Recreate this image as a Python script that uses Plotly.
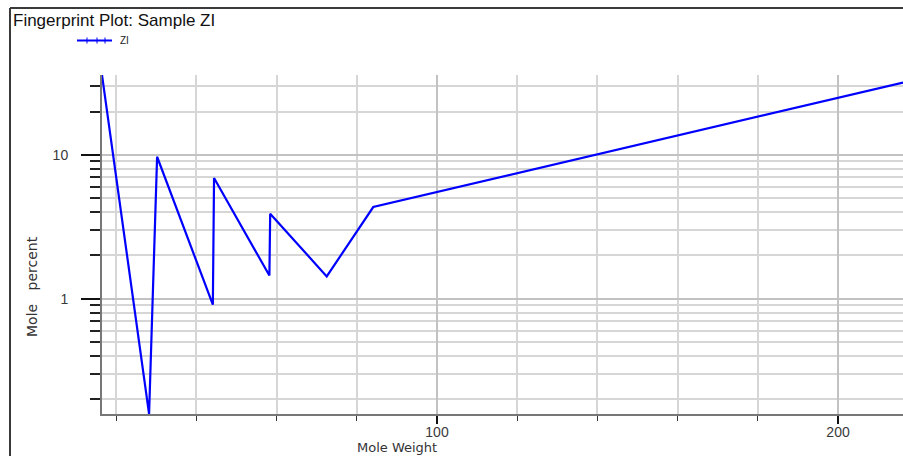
import plotly.graph_objects as go

# Fingerprint data: component mole weight vs. mole percent
mole_weight = [16.46, 28.2, 30.2, 44.1, 44.4, 58.2, 58.4, 72.5, 84.1, 216.2]
mole_percent = [35.9, 0.158, 9.7, 0.91, 6.9, 1.45, 3.9, 1.43, 4.34, 31.8]
series_name = "ZI"

x_major = [100, 200]
x_minor = [20, 40, 60, 80, 120, 140, 160, 180]
y_major = [1, 10]
y_minor = [0.2, 0.3, 0.4, 0.5, 0.6, 0.7, 0.8, 0.9,
           2, 3, 4, 5, 6, 7, 8, 9, 20, 30]

W, H = 903, 456
L, R, T, B = 102, 0, 75, 42
PW, PH = W - L - R, H - T - B


def px(x):
    return (x - L) / PW


def py(y):
    return 1 - (y - T) / PH


fig = go.Figure()
fig.add_trace(go.Scatter(
    x=mole_weight, y=mole_percent, name=series_name,
    mode="lines", line=dict(color="#0000ff", width=2.2),
    showlegend=False, cliponaxis=True,
))

grid_minor = "#d6d6d6"
grid_major = "#c2c2c2"
tick_font = dict(family="Liberation Sans, Arial, sans-serif", size=14, color="#3a3a3a")

fig.update_layout(
    width=W, height=H,
    margin=dict(l=L, r=R, t=T, b=B),
    paper_bgcolor="white", plot_bgcolor="white",
    showlegend=False,
    xaxis=dict(
        range=[16.46, 216.2], tickvals=x_major, ticktext=[str(v) for v in x_major],
        ticks="outside", ticklen=8, tickwidth=2, tickcolor="#111111",
        showgrid=True, gridcolor=grid_major, gridwidth=2,
        showline=True, linecolor="#777777", linewidth=2, zeroline=False,
        tickfont=tick_font, ticklabelstandoff=-4,
        minor=dict(tickvals=x_minor, ticks="outside", ticklen=5, tickwidth=1,
                   tickcolor="#333333", showgrid=True, gridcolor=grid_minor, gridwidth=2),
    ),
    yaxis=dict(
        type="log", range=[-0.801, 1.555], tickvals=y_major,
        ticktext=[str(v) for v in y_major],
        ticks="outside", ticklen=19, tickwidth=2, tickcolor="#111111",
        showgrid=True, gridcolor=grid_major, gridwidth=2,
        showline=True, linecolor="#777777", linewidth=2, zeroline=False,
        tickfont=tick_font, ticklabelstandoff=10,
        minor=dict(tickvals=y_minor, ticks="outside", ticklen=10, tickwidth=2,
                   tickcolor="#222222", showgrid=True, gridcolor=grid_minor, gridwidth=2),
    ),
)

# outer frame (top and left edges)
frame = dict(color="#3a3a3a", width=2)
fig.add_shape(type="line", xref="paper", yref="paper",
              x0=px(10), x1=px(W + 5), y0=py(8), y1=py(8), line=frame)
fig.add_shape(type="line", xref="paper", yref="paper",
              x0=px(10), x1=px(10), y0=py(8), y1=py(H + 5), line=frame)

# legend entry
fig.add_shape(type="line", xref="paper", yref="paper",
              x0=px(77), x1=px(112), y0=py(40.5), y1=py(40.5),
              line=dict(color="#0000ff", width=2))
for tx in (87, 97, 105):
    fig.add_shape(type="line", xref="paper", yref="paper",
                  x0=px(tx), x1=px(tx), y0=py(37.5), y1=py(43.5),
                  line=dict(color="#0000ff", width=1))
fig.add_annotation(text=series_name, xref="paper", yref="paper",
                   x=px(118), y=py(41), xanchor="left", yanchor="middle",
                   showarrow=False,
                   font=dict(family="Liberation Sans, Arial, sans-serif", size=10, color="#222222"))

# chart title
fig.add_annotation(text="Fingerprint Plot: Sample ZI", xref="paper", yref="paper",
                   x=px(11), y=py(20), xanchor="left", yanchor="middle",
                   showarrow=False,
                   font=dict(family="Liberation Sans, Arial, sans-serif", size=17, color="#111111"))

# axis titles
fig.add_annotation(text="Mole Weight", xref="paper", yref="paper",
                   x=px(397), y=py(447), xanchor="center", yanchor="middle",
                   showarrow=False,
                   font=dict(family="DejaVu Sans, sans-serif", size=13, color="#333333"))
fig.add_annotation(text="Mole   percent", xref="paper", yref="paper",
                   x=px(32), y=py(287), xanchor="center", yanchor="middle",
                   textangle=-90, showarrow=False,
                   font=dict(family="DejaVu Sans, sans-serif", size=14, color="#333333"))

fig.write_html("out.html")
